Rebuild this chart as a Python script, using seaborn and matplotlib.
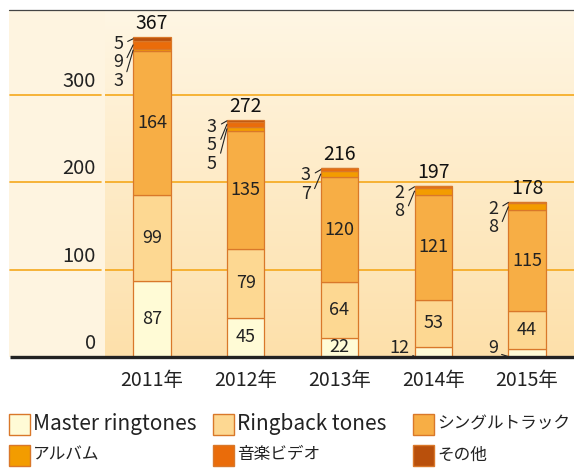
import numpy as np
import pandas as pd
import seaborn as sns
import matplotlib.pyplot as plt
import matplotlib.transforms as mtransforms
from matplotlib.patches import Rectangle
from matplotlib.lines import Line2D
from matplotlib.colors import LinearSegmentedColormap

# データ
years = ['2011年', '2012年', '2013年', '2014年', '2015年']
categories = ['Master ringtones', 'Ringback tones', 'シングルトラック', 'アルバム', '音楽ビデオ', 'その他']
master = [87, 45, 22, 12, 9]
ringback = [99, 79, 64, 53, 44]
single = [164, 135, 120, 121, 115]
album = [3, 5, 7, 8, 8]
video = [9, 5, 3, 2, 2]
other = [5, 3, 0, 0, 0]
totals = [367, 272, 216, 197, 178]
yticks = [0, 100, 200, 300]

colors = ['#fffbd6', '#fdd892', '#f7ae45', '#f39c00', '#ea6c0a', '#b9500c']
edge = '#d9782a'

series = [master, ringback, single, album, video, other]

W, H = 574, 472
sns.set_theme(style='white')
plt.rcParams['font.family'] = ['Noto Sans CJK JP', 'DejaVu Sans']

fig = plt.figure(figsize=(W / 100, H / 100), dpi=100)
fig.patch.set_facecolor('white')

# ピクセル座標でのレイアウト
ax_l, ax_r, ax_t, ax_b = 105, 574, 10, 357
ax = fig.add_axes([ax_l / W, (H - ax_b) / H, (ax_r - ax_l) / W, (ax_b - ax_t) / H])
px_per_unit = 0.873
ymax = (ax_b - ax_t) / px_per_unit
px_per_cat = (ax_r - ax_l) / 5

# 左側のクリーム色背景と上の線
fig.patches.append(Rectangle((9 / W, (H - ax_b) / H), (ax_l - 9) / W, (ax_b - ax_t) / H,
                             transform=fig.transFigure, facecolor='#fef4e0', edgecolor='none', zorder=-5))
fig.lines.append(Line2D([9 / W, 1], [(H - ax_t) / H] * 2, transform=fig.transFigure, color='#444444', lw=0.9))

# 棒グラフ (積み上げ)
cum = np.zeros(len(years))
for name, vals, c in zip(categories, series, colors):
    sns.barplot(x=years, y=vals, bottom=cum, color=c, width=0.4, edgecolor=edge,
                linewidth=0.9, ax=ax, zorder=3, saturation=1)
    cum = cum + np.array(vals)

# グラデーション背景
grad = LinearSegmentedColormap.from_list('bg', ['#fff6e4', '#fde0aa'])
ax.imshow(np.linspace(0, 1, 256).reshape(-1, 1), cmap=grad, extent=(-0.5, 4.5, 0, ymax),
          aspect='auto', zorder=0, origin='upper')
ax.set_xlim(-0.5, 4.5)
ax.set_ylim(0, ymax)

for s in ax.spines.values():
    s.set_visible(False)
ax.set_xticks([])
ax.set_yticks([])
ax.set_xlabel('')
ax.set_ylabel('')

# 目盛線
trans = mtransforms.blended_transform_factory(ax.transAxes, ax.transData)
left_ext = (10 - ax_l) / (ax_r - ax_l)
gap = -4 / (ax_r - ax_l)
for y in yticks[1:]:
    ax.axhline(y, color='#f5a81c', lw=1.2, zorder=1)
    ax.plot([left_ext, gap], [y, y], transform=trans, color='#f5a81c', lw=1.2, clip_on=False)
ax.plot([left_ext, 1], [0, 0], transform=trans, color='#222222', lw=2.4, clip_on=False,
        solid_capstyle='butt', zorder=6)
for y in yticks:
    ax.text(-9 / (ax_r - ax_l), y + 8 / px_per_unit, str(y), transform=trans,
            ha='right', va='baseline', fontsize=14.5, color='#222222')

# 年ラベル
for i, yr in enumerate(years):
    ax.text(i, -24 / px_per_unit, yr, ha='center', va='center', fontsize=14,
            color='#222222', clip_on=False)

# 値ラベル
bw = 0.4
dx = 15 / px_per_cat
for i in range(len(years)):
    base = 0
    for k in range(3):
        v = series[k][i]
        if v >= 15:
            ax.text(i, base + v / 2, str(v), ha='center', va='center', fontsize=13,
                    color='#222222', zorder=5)
        else:
            ax.annotate(str(v), xy=(i - bw / 2, 0.5), xytext=(i - bw / 2 - dx, 9 / px_per_unit),
                        ha='center', va='center', fontsize=13, color='#222222',
                        arrowprops=dict(arrowstyle='-', lw=0.8, color='#222222',
                                        shrinkA=0, shrinkB=0, relpos=(1, 0.2)))
        base += v
    top = base + album[i] + video[i] + other[i]
    ax.text(i, top + 3 / px_per_unit, str(totals[i]), ha='center', va='bottom',
            fontsize=14, color='#111111', zorder=5)
    # 小さい値 (上から順)
    small = []
    b = base
    for k in range(3, 6):
        v = series[k][i]
        if v > 0:
            small.append((v, b + v / 2))
        b += v
    small = small[::-1]
    for j, (v, mid) in enumerate(small):
        ty = top - (7 + j * 18.5) / px_per_unit
        ax.annotate(str(v), xy=(i - bw / 2, mid), xytext=(i - bw / 2 - dx, ty),
                    ha='center', va='center', fontsize=13, color='#222222', zorder=5,
                    arrowprops=dict(arrowstyle='-', lw=0.8, color='#222222',
                                    shrinkA=1, shrinkB=0, relpos=(1, 0.5 if j == 0 else 0.3)))

# 凡例 (手動配置)
col_x = [9, 213, 413]
row_y = [424, 455]
sq = 21
for n, (name, c) in enumerate(zip(categories, colors)):
    r, cidx = divmod(n, 3)
    x0, yc = col_x[cidx], row_y[r]
    fig.patches.append(Rectangle((x0 / W, (H - yc - sq / 2) / H), sq / W, sq / H,
                                 transform=fig.transFigure, facecolor=c, edgecolor=edge, lw=1))
    fs = 15 if name.isascii() else 12
    fig.text((x0 + sq + 3) / W, (H - yc) / H, name, ha='left', va='center', fontsize=fs,
             color='#222222')

fig.savefig('out.png', dpi=100)
